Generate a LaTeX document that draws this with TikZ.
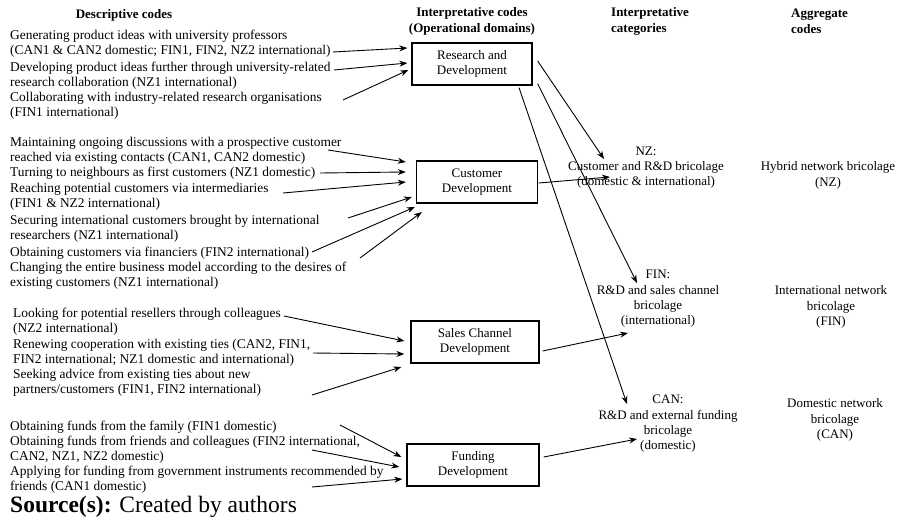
\documentclass[tikz,border=0pt]{standalone}
\usepackage{fontspec}
\setmainfont{Liberation Serif}
\usetikzlibrary{arrows.meta,positioning}

\begin{document}
\begin{tikzpicture}[x=1pt, y=-1pt,
  desc/.style={anchor=west, align=left, inner sep=0pt, font=\fontsize{13.4}{15}\selectfont},
  head/.style={inner sep=0pt, font=\bfseries\fontsize{13}{16}\selectfont},
  dombox/.style={draw, line width=1.3pt, minimum height=42pt, align=center, inner sep=2pt, font=\fontsize{13}{15}\selectfont},
  categ/.style={align=center, inner sep=0pt, font=\fontsize{13}{15.3}\selectfont},
  arr/.style={-{Stealth[length=8pt, width=6pt]}, line width=0.9pt}]
  \useasboundingbox (0,0) rectangle (908,525);

  \node (hdesc) [head] at (124,15) {Descriptive codes};
  \node (hdom) [head, align=center] at (472,21) {Interpretative codes\\(Operational domains)};
  \node (hcat) [head, anchor=west, align=left] at (611,21) {Interpretative\\categories};
  \node (hagg) [head, anchor=west, align=left] at (791,21) {Aggregate\\codes};

  \node (rd) [dombox, minimum width=120pt] at (472,64) {Research and\\Development};
  \node (cd) [dombox, minimum width=121pt] at (477,182) {Customer\\Development};
  \node (sc) [dombox, minimum width=128pt] at (475,342) {Sales Channel\\Development};
  \node (fd) [dombox, minimum width=132pt] at (473,465) {Funding\\Development};

  \node (nz) [categ] at (646,167.5) {NZ:\\Customer and R\&D bricolage\\(domestic \& international)};
  \node (fin) [categ] at (658,299) {FIN:\\R\&D and sales channel\\bricolage\\(international)};
  \node (can) [categ] at (668,424) {CAN:\\R\&D and external funding\\bricolage\\(domestic)};

  \node (hyb) [categ] at (828,175.5) {Hybrid network bricolage\\(NZ)};
  \node (intl) [categ] at (831,307) {International network\\bricolage\\(FIN)};
  \node (dom) [categ] at (835,420) {Domestic network\\bricolage\\(CAN)};

  \node (r1) [desc] at (10,43.5) {Generating product ideas with university professors\\(CAN1 \& CAN2 domestic; FIN1, FIN2, NZ2 international)};
  \node (r2) [desc] at (10,75.5) {Developing product ideas further through university-related\\research collaboration (NZ1 international)};
  \node (r3) [desc] at (10,105.5) {Collaborating with industry-related research organisations\\(FIN1 international)};

  \node (c1) [desc] at (10,151) {Maintaining ongoing discussions with a prospective customer\\reached via existing contacts (CAN1, CAN2 domestic)};
  \node (c2) [desc] at (10,173) {Turning to neighbours as first customers (NZ1 domestic)};
  \node (c3) [desc] at (10,197) {Reaching potential customers via intermediaries\\(FIN1 \& NZ2 international)};
  \node (c4) [desc] at (10,229) {Securing international customers brought by international\\researchers (NZ1 international)};
  \node (c5) [desc] at (10,253) {Obtaining customers via financiers (FIN2 international)};
  \node (c6) [desc] at (10,275.5) {Changing the entire business model according to the desires of\\existing customers (NZ1 international)};

  \node (s1) [desc] at (13,322) {Looking for potential resellers through colleagues\\(NZ2 international)};
  \node (s2) [desc] at (13,352.5) {Renewing cooperation with existing ties (CAN2, FIN1,\\FIN2 international; NZ1 domestic and international)};
  \node (s3) [desc] at (13,382.5) {Seeking advice from existing ties about new\\partners/customers (FIN1, FIN2 international)};

  \node (f1) [desc] at (10,427) {Obtaining funds from the family (FIN1 domestic)};
  \node (f2) [desc] at (10,449.5) {Obtaining funds from friends and colleagues (FIN2 international,\\CAN2, NZ1, NZ2 domestic)};
  \node (f3) [desc] at (10,479.5) {Applying for funding from government instruments recommended by\\friends (CAN1 domestic)};

  \node (src) [anchor=west, inner sep=0pt, font=\fontsize{23.5}{26}\selectfont] at (10,507) {\textbf{Source(s):} Created by authors};

  \coordinate (r1s) at (333,52);
  \coordinate (r2s) at (334,70);
  \coordinate (r3s) at (343,100);
  \coordinate (c1s) at (328,150);
  \coordinate (c2s) at (320,173);
  \coordinate (c3s) at (283,193);
  \coordinate (c4s) at (348,218);
  \coordinate (c5s) at (312,252);
  \coordinate (c6s) at (360,258);
  \coordinate (s1s) at (284,316);
  \coordinate (s2s) at (313,353);
  \coordinate (s3s) at (312,395);
  \coordinate (f1s) at (340,425);
  \coordinate (f2s) at (312,450);
  \coordinate (f3s) at (312,487);

  \draw[arr] (r1s) -- ([shift={(-4,-16)}]rd.west);
  \draw[arr] (r2s) -- ([shift={(-4,-1)}]rd.west);
  \draw[arr] (r3s) -- ([shift={(-3,6)}]rd.west);

  \draw[arr] (c1s) -- ([shift={(-10,-20)}]cd.west);
  \draw[arr] (c2s) -- ([shift={(-10,-10)}]cd.west);
  \draw[arr] (c3s) -- ([shift={(-10,0)}]cd.west);
  \draw[arr] (c4s) -- ([shift={(-4,15)}]cd.west);
  \draw[arr] (c5s) -- ([shift={(-1,25)}]cd.west);
  \draw[arr] (c6s) -- ([shift={(6,30)}]cd.west);

  \draw[arr] (s1s) -- ([shift={(-6,-1)}]sc.west);
  \draw[arr] (s2s) -- ([shift={(-6,12)}]sc.west);
  \draw[arr] (s3s) -- ([shift={(-9,25)}]sc.west);

  \draw[arr] (f1s) -- ([shift={(-5,-8)}]fd.west);
  \draw[arr] (f2s) -- ([shift={(-7,2)}]fd.west);
  \draw[arr] (f3s) -- ([shift={(-4,14)}]fd.west);

  \draw[arr] ([shift={(5,-3)}]rd.east) -- ([shift={(-42,-8.5)}]nz.center);
  \draw[arr] ([shift={(5,-2)}]rd.south east) -- ([shift={(-21,-16)}]fin.center);
  \draw[arr] ([shift={(47,2)}]rd.south) -- ([shift={(-41,-20)}]can.center);
  \draw[arr] ([shift={(0.5,1)}]cd.east) -- ([shift={(-36,9.5)}]nz.center);
  \draw[arr] ([shift={(3,9)}]sc.east) -- ([shift={(-30,34)}]fin.center);
  \draw[arr] ([shift={(4,-8)}]fd.east) -- ([shift={(-31,15)}]can.center);
\end{tikzpicture}
\end{document}
